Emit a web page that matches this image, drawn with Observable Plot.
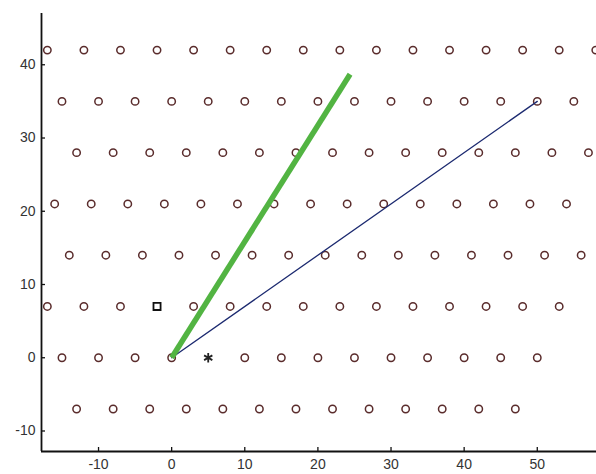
<!DOCTYPE html>
<html><head><meta charset="utf-8">
<script src="https://cdn.jsdelivr.net/npm/d3@7"></script>
<script src="https://cdn.jsdelivr.net/npm/@observablehq/plot@0.6"></script>
<style>
html,body{margin:0;padding:0;background:#fff;}
svg{display:block;}
</style>
</head><body>
<div id="chart"></div>
<script>
// Lattice rows: y value and the x values of the circles in that row
const rowYs = [-7, 0, 7, 14, 21, 28, 35, 42];
const rowM7 = [-13,-8,-3,2,7,12,17,22,27,32,37,42,47];
const row0  = [-15,-10,-5,0,10,15,20,25,30,35,40,45,50];
const row7  = [-17,-12,-7,3,8,13,18,23,28,33,38,43,48,53];
const row14 = [-14,-9,-4,1,6,11,16,21,26,31,36,41,46,51,56];
const row21 = [-16,-11,-6,-1,4,9,14,19,24,29,34,39,44,49,54];
const row28 = [-13,-8,-3,2,7,12,17,22,27,32,37,42,47,52,57];
const row35 = [-15,-10,-5,0,5,10,15,20,25,30,35,40,45,50,55];
const row42 = [-17,-12,-7,-2,3,8,13,18,23,28,33,38,43,48,53,58];
const rows = [rowM7, row0, row7, row14, row21, row28, row35, row42];

// Special points
const squarePt = [{x: -2, y: 7}];
const starPt = [{x: 5, y: 0}];
// Vectors from origin
const greenLine = [{x: 0, y: 0}, {x: 24.4, y: 38.7}];
const blueLine = [{x: 0, y: 0}, {x: 50, y: 35}];

const xTicks = [-10, 0, 10, 20, 30, 40, 50];
const yTicks = [-10, 0, 10, 20, 30, 40];
const xDomain = [-17.8, 58.1];
const yDomain = [-12.8, 47];

const circles = rows.flatMap((xs, i) => xs.map(x => ({x, y: rowYs[i]})));

const W = 596, H = 474, ML = 41, MR = 0, MT = 13, MB = 23, TICK = 4;
const font = "'Liberation Sans', Arial, sans-serif";

const chart = Plot.plot({
  width: W,
  height: H,
  marginLeft: ML,
  marginRight: MR,
  marginTop: MT,
  marginBottom: MB,
  style: {fontFamily: font, fontSize: "14px", color: "#333", background: "#fff", overflow: "hidden"},
  x: {domain: xDomain, label: null},
  y: {domain: yDomain, label: null},
  marks: [
    Plot.dot(circles, {x: "x", y: "y", r: 3.7, stroke: "#5a2c2c", strokeWidth: 1.5, fill: "none"}),
    Plot.line(blueLine, {x: "x", y: "y", stroke: "#1c2a70", strokeWidth: 1.3}),
    Plot.line(greenLine, {x: "x", y: "y", stroke: "#52b442", strokeWidth: 5.5, strokeLinecap: "butt"}),
    Plot.dot(squarePt, {x: "x", y: "y", symbol: "square", r: 4, stroke: "#111", strokeWidth: 1.8, fill: "none"}),
    Plot.dot(starPt, {x: "x", y: "y", symbol: "asterisk", r: 4.5, stroke: "#222", strokeWidth: 1.8}),
    Plot.axisX({ticks: xTicks, tickSize: 0, tickPadding: 8, tickFormat: d => String(d), fill: "#333", label: null}),
    Plot.axisY({ticks: yTicks, tickSize: 0, tickPadding: 6, tickFormat: d => String(d), fill: "#333", label: null}),
    // inward tick marks
    Plot.ruleX(xTicks, {stroke: "#111", strokeWidth: 1.3, insetTop: H - MT - MB - TICK}),
    Plot.ruleY(yTicks, {stroke: "#111", strokeWidth: 1.3, insetRight: W - ML - MR - TICK}),
    Plot.ruleX([xDomain[0]], {stroke: "#111", strokeWidth: 1.8}),
    Plot.ruleY([yDomain[0]], {stroke: "#111", strokeWidth: 1.8})
  ]
});
document.getElementById("chart").appendChild(chart);
</script>
</body></html>
